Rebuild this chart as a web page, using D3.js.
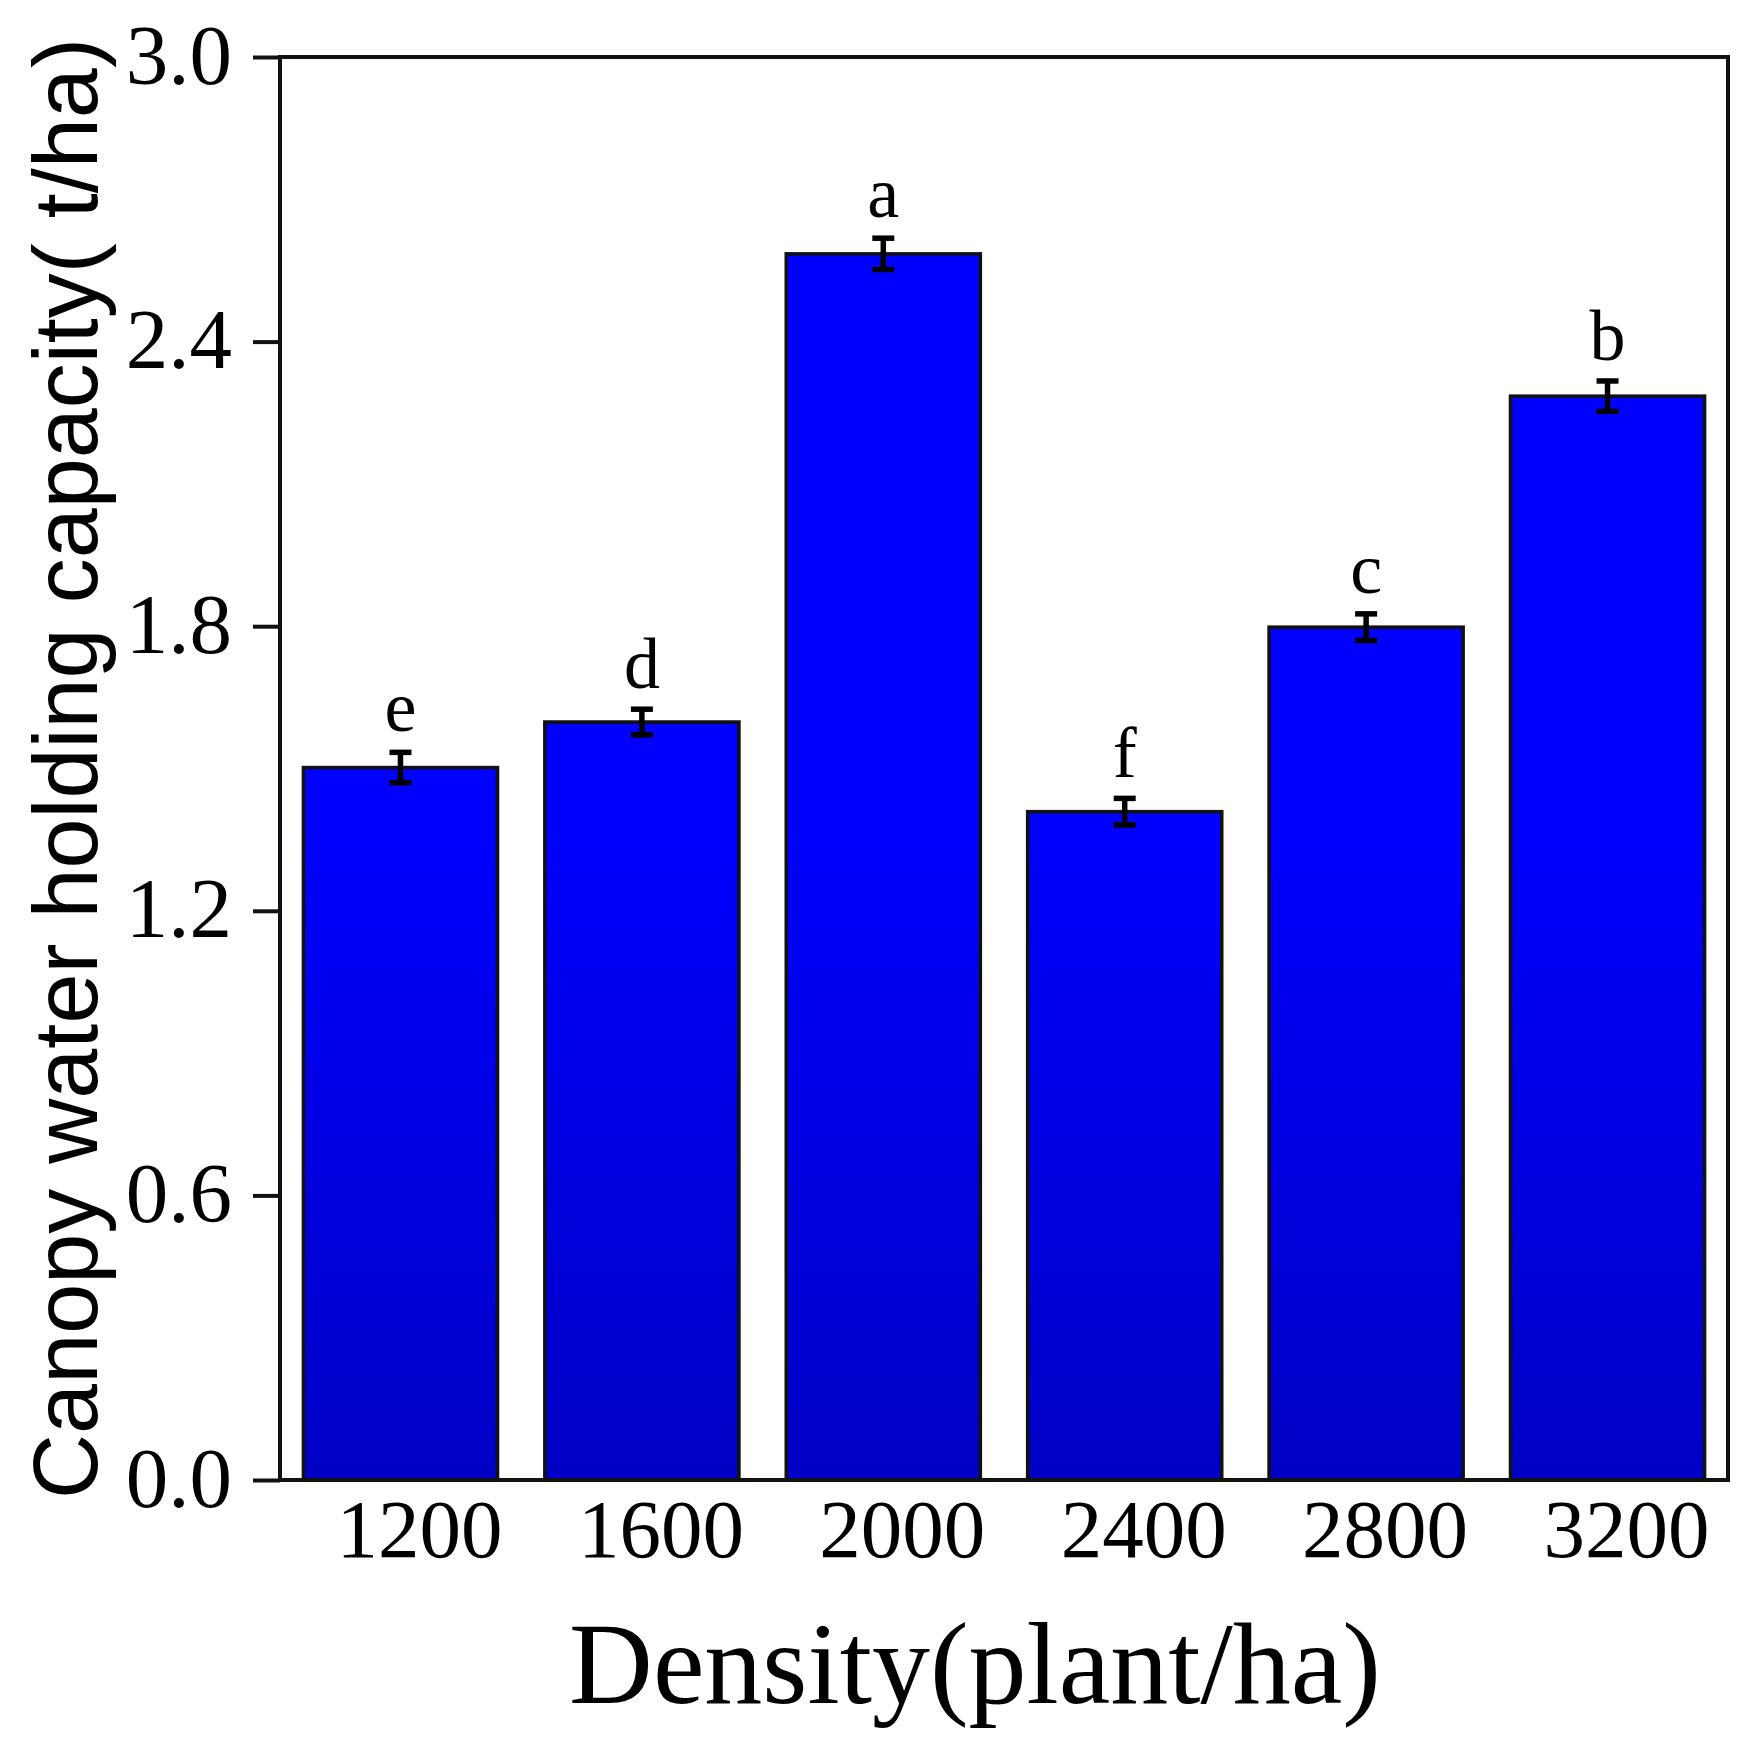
<!DOCTYPE html>
<html>
<head>
<meta charset="utf-8">
<script src="https://cdn.jsdelivr.net/npm/d3@7"></script>
<style>
  html, body { margin: 0; padding: 0; background: #fff; }
  svg { display: block; }
</style>
</head>
<body>
<svg id="chart" width="1763" height="1763"></svg>
<script>
const categories = ["1200", "1600", "2000", "2400", "2800", "3200"];
const values = [1.502, 1.598, 2.585, 1.409, 1.798, 2.285];
const errors = [0.032, 0.027, 0.033, 0.028, 0.028, 0.032];
const letters = ["e", "d", "a", "f", "c", "b"];
const yTicks = [0, 0.6, 1.2, 1.8, 2.4, 3.0];
const xTitle = "Density(plant/ha)";
const yTitle = "Canopy water holding capacity( t/ha)";

const svg = d3.select("#chart");
const L = 280, R = 1728, T = 57, B = 1480;

const x = d3.scaleBand().domain(categories).range([L, R]).paddingInner(0.196).paddingOuter(0.097);
const y = d3.scaleLinear().domain([0, 3]).range([B, T]);

const defs = svg.append("defs");
const grad = defs.append("linearGradient")
  .attr("id", "barGrad").attr("gradientUnits", "userSpaceOnUse")
  .attr("x1", 0).attr("x2", 0).attr("y1", 820).attr("y2", B);
grad.append("stop").attr("offset", "0%").attr("stop-color", "#0000FF");
grad.append("stop").attr("offset", "100%").attr("stop-color", "#0000C4");

const data = categories.map((c, i) => ({ c, v: values[i], e: errors[i], l: letters[i] }));

// bars
svg.append("g").selectAll("rect").data(data).join("rect")
  .attr("x", d => x(d.c)).attr("y", d => y(d.v))
  .attr("width", x.bandwidth()).attr("height", d => y(0) - y(d.v))
  .attr("fill", "url(#barGrad)").attr("stroke", "#111").attr("stroke-width", 3.5);

// error bars
const eg = svg.append("g").attr("stroke", "#000").attr("stroke-width", 5.5);
data.forEach(d => {
  const cx = x(d.c) + x.bandwidth() / 2;
  eg.append("line").attr("x1", cx).attr("x2", cx).attr("y1", y(d.v + d.e)).attr("y2", y(d.v - d.e));
  eg.append("line").attr("x1", cx - 11).attr("x2", cx + 11).attr("y1", y(d.v + d.e)).attr("y2", y(d.v + d.e));
  eg.append("line").attr("x1", cx - 11).attr("x2", cx + 11).attr("y1", y(d.v - d.e)).attr("y2", y(d.v - d.e));
});

// significance letters
svg.append("g").selectAll("text").data(data).join("text")
  .attr("x", d => x(d.c) + x.bandwidth() / 2)
  .attr("y", d => y(d.v + d.e) - 21)
  .attr("text-anchor", "middle")
  .attr("font-family", "'Liberation Serif', 'Times New Roman', serif")
  .attr("font-size", 72).attr("fill", "#000")
  .text(d => d.l);

// frame
svg.append("rect").attr("x", L).attr("y", T).attr("width", R - L).attr("height", B - T)
  .attr("fill", "none").attr("stroke", "#111").attr("stroke-width", 4);

// y axis
const yAxis = d3.axisLeft(y).tickValues(yTicks).tickFormat(d3.format(".1f")).tickSize(27).tickPadding(21);
const ga = svg.append("g").attr("transform", `translate(${L},0)`).call(yAxis);
ga.select(".domain").remove();
ga.selectAll(".tick line").attr("stroke", "#111").attr("stroke-width", 4);
ga.selectAll(".tick text")
  .attr("font-family", "'Liberation Serif', 'Times New Roman', serif")
  .attr("font-size", 85).attr("fill", "#000")
  .attr("dy", null).attr("y", 26);

// x axis labels (no tick marks)
const xAxis = d3.axisBottom(x).tickSize(0).tickPadding(0);
const gx = svg.append("g").attr("transform", `translate(19,${B})`).call(xAxis);
gx.select(".domain").remove();
gx.selectAll(".tick text")
  .attr("font-family", "'Liberation Serif', 'Times New Roman', serif")
  .attr("font-size", 83).attr("fill", "#000")
  .attr("dy", null).attr("y", 77);

// titles
svg.append("text").attr("x", 975).attr("y", 1703).attr("text-anchor", "middle")
  .attr("font-family", "'Liberation Serif', 'Times New Roman', serif")
  .attr("font-size", 116).attr("fill", "#000").text(xTitle);

svg.append("text").attr("transform", `translate(97,${(T + B) / 2}) rotate(-90)`)
  .attr("text-anchor", "middle")
  .attr("font-family", "'Liberation Sans', Arial, sans-serif")
  .attr("font-size", 90).attr("fill", "#000").text(yTitle);
</script>
</body>
</html>
